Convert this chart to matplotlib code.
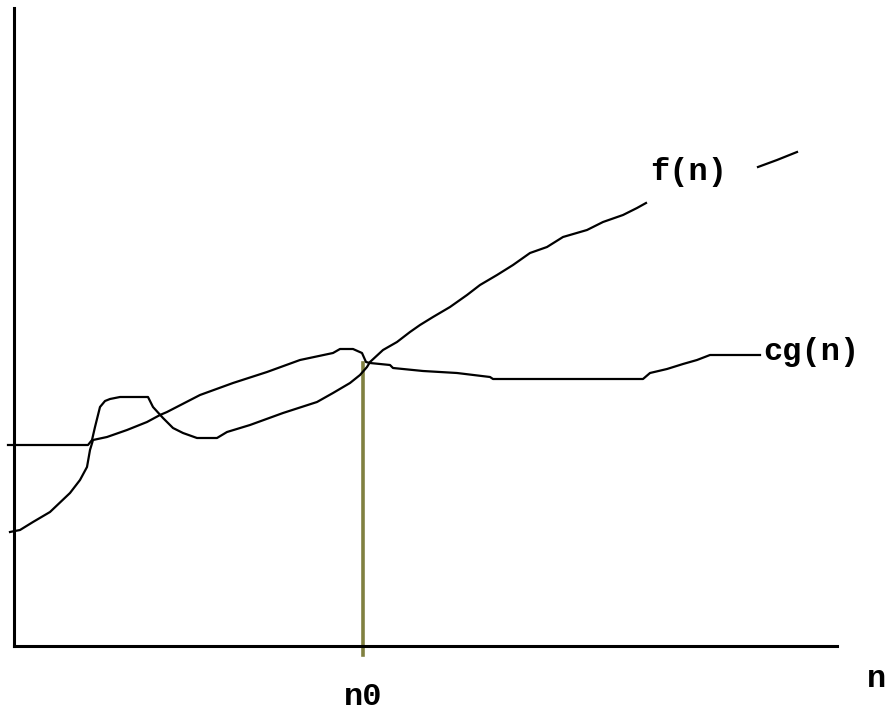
import matplotlib
matplotlib.use("Agg")
import matplotlib.pyplot as plt
import numpy as np

# ---- data (axis units: n to the right, value upward; origin at axes corner) ----
f_n = [-6, 74, 78, 81, 86, 91, 96, 106, 134, 139, 149, 159, 169, 183, 203, 213,
       236, 269, 303, 319, 336, 346, 353, 356, 369, 383, 396, 406, 419, 436, 453,
       466, 483, 499, 516, 533, 549, 573, 589, 609, 623, 632]
f_val = [201, 201, 206, 219, 239, 245, 247, 249, 249, 239, 228, 218, 213, 208, 208, 214,
         221, 233, 244, 253, 263, 271, 279, 284, 296, 304, 314, 321, 329, 339, 351,
         361, 371, 381, 393, 399, 409, 416, 424, 431, 438, 443]
f_tail_n = [744, 763, 783]
f_tail_val = [479, 486, 494]

cg_n = [-4, 6, 19, 36, 56, 66, 73, 76, 79, 93, 113, 133, 146, 153, 186, 219,
        253, 286, 319, 326, 339, 348, 352, 356, 376, 379, 409, 443, 476, 479,
        629, 636, 653, 669, 683, 696, 746]
cg_val = [114, 116, 124, 134, 153, 166, 179, 196, 206, 209, 216, 224, 231, 234, 251, 263,
          274, 286, 293, 297, 297, 293, 284, 283, 281, 278, 275, 273, 269, 267,
          267, 273, 277, 282, 286, 291, 291]

n0 = 349
n0_top = 283

labels = {"f": "f(n)", "cg": "cg(n)", "n0": "n0", "n": "n"}
label_pos = {"f": (636, 474), "cg": (749, 294), "n0": (349, -51), "n": (853, -33)}

# ---- figure ----
W, H = 889, 712
fig = plt.figure(figsize=(W / 100, H / 100), dpi=100)
left_px, right_px, top_px, bottom_px = 14, 837, 8, 646
ax = fig.add_axes([left_px / W, (H - bottom_px) / H,
                   (right_px - left_px) / W, (bottom_px - top_px) / H])
ax.set_xlim(0, right_px - left_px)
ax.set_ylim(0, bottom_px - top_px)
for s in ["top", "right"]:
    ax.spines[s].set_visible(False)
ax.spines["left"].set_linewidth(2.2)
ax.spines["bottom"].set_linewidth(2.2)
ax.set_xticks([])
ax.set_yticks([])

lw = 1.6
ax.plot(f_n, f_val, color="black", lw=lw, clip_on=False, solid_joinstyle="round")
ax.plot(f_tail_n, f_tail_val, color="black", lw=lw, clip_on=False)
ax.plot(cg_n, cg_val, color="black", lw=lw, clip_on=False, solid_joinstyle="round")
ax.plot([n0, n0], [-9, n0_top], color="#808040", lw=2.6, clip_on=False, zorder=1)

font = dict(family=["Liberation Mono", "DejaVu Sans Mono"], fontsize=23,
            color="black", fontweight="bold")
ax.text(*label_pos["f"], labels["f"], ha="left", va="center", clip_on=False, **font)
ax.text(*label_pos["cg"], labels["cg"], ha="left", va="center", clip_on=False, **font)
ax.text(*label_pos["n0"], labels["n0"], ha="center", va="center", clip_on=False, **font)
ax.text(*label_pos["n"], labels["n"], ha="left", va="center", clip_on=False, **font)

fig.savefig("out.png", dpi=100, facecolor="white")
